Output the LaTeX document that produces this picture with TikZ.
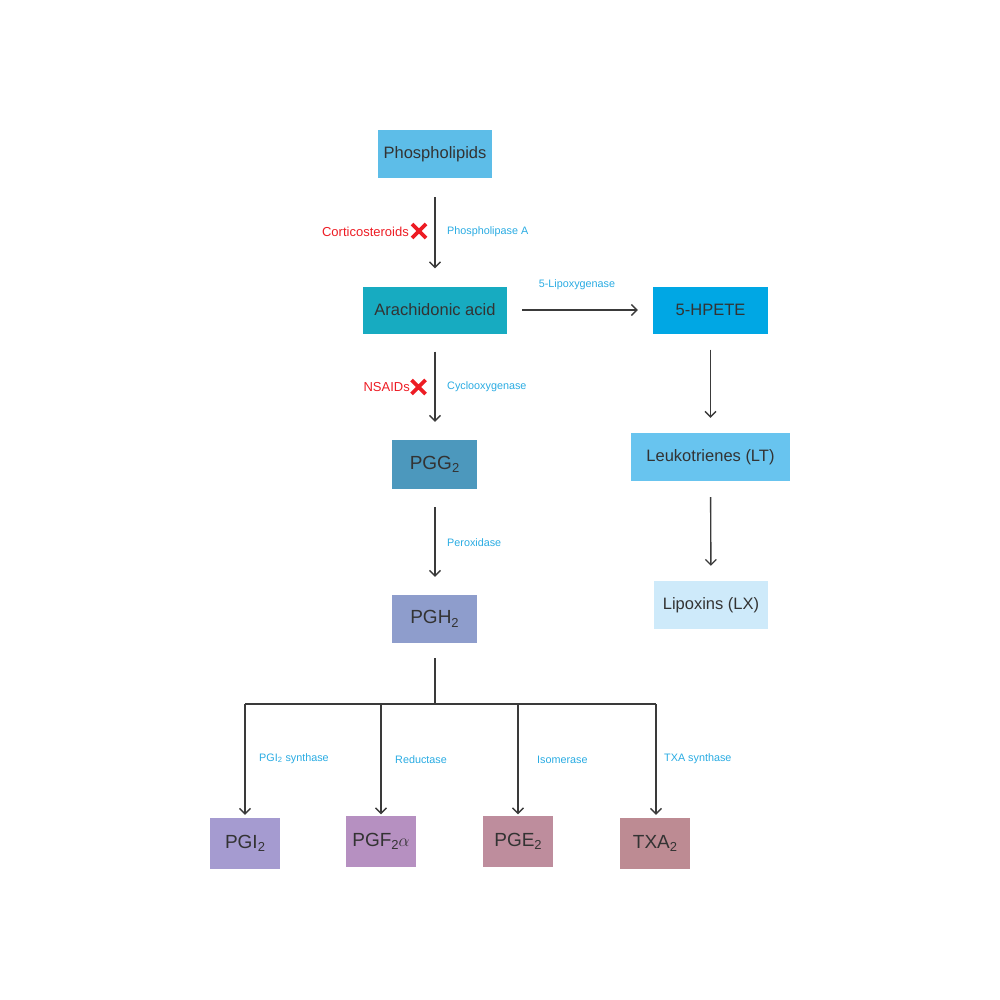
\documentclass[tikz,border=0pt]{standalone}
\usepackage{fontspec}
\setmainfont{Liberation Sans}
\usetikzlibrary{arrows.meta}
\definecolor{txtc}{HTML}{333333}
\definecolor{linec}{HTML}{3A3A3A}
\definecolor{enz}{HTML}{29ABE2}
\definecolor{redc}{HTML}{ED1C24}
\definecolor{cPL}{HTML}{5DBDE8}
\definecolor{cAA}{HTML}{17ABC1}
\definecolor{cHP}{HTML}{00A7E4}
\definecolor{cLT}{HTML}{68C4EF}
\definecolor{cLX}{HTML}{CEEAFA}
\definecolor{cPGG}{HTML}{4C98BD}
\definecolor{cPGH}{HTML}{8E9DCC}
\definecolor{cPGI}{HTML}{A59BD0}
\definecolor{cPGF}{HTML}{B690C1}
\definecolor{cPGE}{HTML}{BE8D9D}
\definecolor{cTXA}{HTML}{BD8B93}
\tikzset{
  box/.style={rectangle, inner sep=0pt, text=txtc, font=\fontsize{16.5}{19}\selectfont},
  pgbox/.style={box, font=\fontsize{19}{22}\selectfont},
  enzlabel/.style={inner sep=0pt, text=enz, font=\fontsize{10.8}{13}\selectfont},
  druglabel/.style={inner sep=0pt, text=redc, font=\fontsize{13}{15}\selectfont},
  arr/.style={draw=linec, line width=1.4pt, -{Straight Barb[length=5.5pt,width=11pt,line width=1.3pt]}},
  plainline/.style={draw=linec, line width=1.4pt},
  crossx/.style={draw=redc, line width=3.6pt}
}
\newcommand{\sbt}[1]{\raisebox{-0.35ex}{\fontsize{13}{15}\selectfont #1}}
\begin{document}
\begin{tikzpicture}[x=1pt,y=-1pt]
\useasboundingbox (0,0) rectangle (1000,1000);
% boxes
\node[box, fill=cPL, minimum width=114pt, minimum height=48pt] (pl) at (435,154) {Phospholipids};
\node[box, fill=cAA, minimum width=144pt, minimum height=47pt] (aa) at (435,310) {Arachidonic acid};
\node[box, fill=cHP, minimum width=115pt, minimum height=47pt] (hp) at (710.5,310) {5-HPETE};
\node[box, fill=cLT, minimum width=159pt, minimum height=48pt] (lt) at (710.5,457) {Leukotrienes (LT)};
\node[box, fill=cLX, minimum width=114pt, minimum height=48pt] (lx) at (711,605) {Lipoxins (LX)};
\node[pgbox, fill=cPGG, minimum width=85pt, minimum height=49pt] (pgg) at (434.5,464.5) {PGG\sbt{2}};
\node[pgbox, fill=cPGH, minimum width=85pt, minimum height=48pt] (pgh) at (434.5,619) {PGH\sbt{2}};
\node[pgbox, fill=cPGI, minimum width=70pt, minimum height=51pt] (pgi) at (245,843.5) {PGI\sbt{2}};
\node[pgbox, fill=cPGF, minimum width=70pt, minimum height=51pt] (pgf) at (381,841.5) {PGF\sbt{2}$\alpha$};
\node[pgbox, fill=cPGE, minimum width=70pt, minimum height=51pt] (pge) at (518,841.5) {PGE\sbt{2}};
\node[pgbox, fill=cTXA, minimum width=70pt, minimum height=51pt] (txa) at (655,843.5) {TXA\sbt{2}};
% main arrows
\draw[arr, shorten <=19pt, shorten >=18pt] (pl) -- (aa);
\draw[arr, shorten <=15pt, shorten >=15pt] (aa) -- (hp);
\draw[arr, shorten <=16pt, shorten >=15pt] (hp) -- (lt);
\draw[arr, shorten <=16pt, shorten >=15pt] (lt) -- (lx);
\draw[arr, shorten <=18pt, shorten >=18pt] (aa.south) -- (aa.south |- pgg.north);
\draw[arr, shorten <=18pt, shorten >=18pt] (pgg.south -| aa.south) -- (aa.south |- pgh.north);
% branching
\coordinate (j) at (435,704);
\coordinate (b1) at (245,704);
\coordinate (b2) at (381,704);
\coordinate (b3) at (518,704);
\coordinate (b4) at (656,704);
\draw[plainline, shorten <=15pt] (pgh.south -| j) -- (j);
\draw[plainline] (b1) -- (b4);
\draw[arr, shorten >=3pt] (b1) -- (b1 |- pgi.north);
\draw[arr, shorten >=1.5pt] (b2) -- (b2 |- pgf.north);
\draw[arr, shorten >=1.5pt] (b3) -- (b3 |- pge.north);
\draw[arr, shorten >=3pt] (b4) -- (b4 |- txa.north);
% enzyme labels
\node[enzlabel, anchor=west] (e1) at (447,231.5) {Phospholipase A};
\node[enzlabel] (e2) at (577,284.5) {5-Lipoxygenase};
\node[enzlabel, anchor=west] (e3) at (447,386.5) {Cyclooxygenase};
\node[enzlabel, anchor=west] (e4) at (447,542.5) {Peroxidase};
\node[enzlabel, anchor=west] (e5) at (259,758.5) {PGI\textsubscript{2} synthase};
\node[enzlabel, anchor=west] (e6) at (395,759.5) {Reductase};
\node[enzlabel, anchor=west] (e7) at (537,759.5) {Isomerase};
\node[enzlabel, anchor=west] (e8) at (664,758.5) {TXA synthase};
% inhibitors
\node[druglabel, anchor=east] (d1) at (409,232) {Corticosteroids};
\node[druglabel, anchor=east] (d2) at (410,387) {NSAIDs};
\draw[crossx] (412,224) -- (426,238) (412,238) -- (426,224);
\draw[crossx] (411.5,380) -- (425.5,394) (411.5,394) -- (425.5,380);
\end{tikzpicture}
\end{document}
